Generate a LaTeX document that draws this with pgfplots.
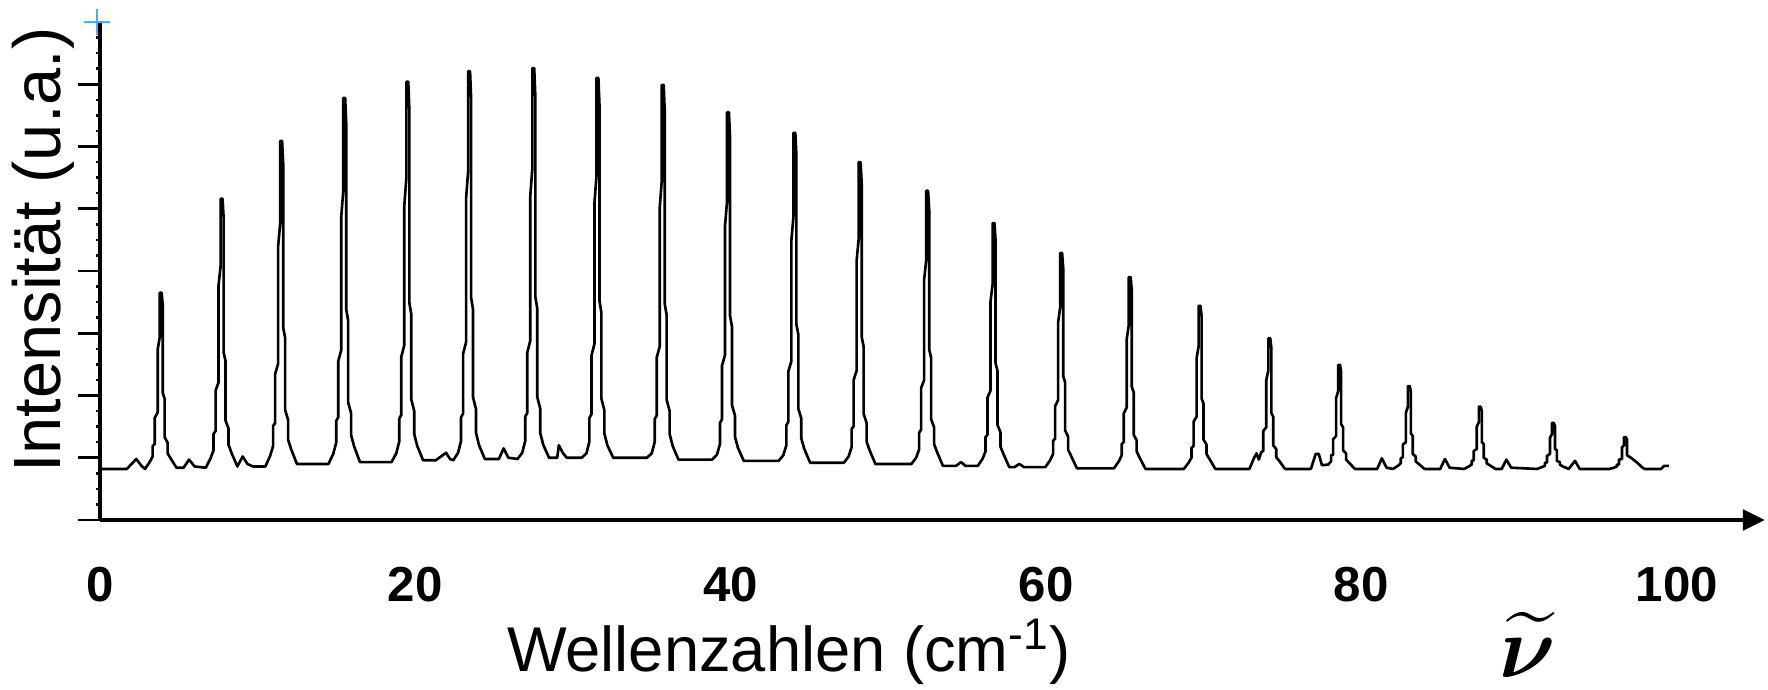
\documentclass[border=0pt]{standalone}
\usepackage{amsmath}
\usepackage{fontspec}
\setmainfont{Liberation Sans}
\usepackage{pgfplots}
\pgfplotsset{compat=1.18}
\usetikzlibrary{arrows.meta}
\definecolor{crossblue}{RGB}{80,170,240}
\begin{document}
\begin{tikzpicture}
\begin{axis}[
  name=ax,
  at={(0,0)}, anchor=south west,
  scale only axis,
  width=16.65cm, height=4.98cm,
  xmin=0, xmax=105.6, ymin=0, ymax=8,
  clip=false,
  axis x line=bottom,
  axis y line*=left,
  x axis line style={line width=1.4pt, -{Triangle[length=2.2mm,width=2.0mm]}},
  y axis line style={line width=1.4pt},
  xtick={0,20,40,60,80,100},
  major x tick style={draw=none},
  xticklabel style={anchor=center, yshift=-4.3mm, font=\fontsize{14}{16}\selectfont\bfseries},
  /pgf/number format/assume math mode=true,
  ytick={0,1,2,3,4,5,6,7},
  yticklabels={},
  minor ytick={0.25,0.5,0.75,1.25,1.5,1.75,2.25,2.5,2.75,3.25,3.5,3.75,4.25,4.5,4.75,5.25,5.5,5.75,6.25,6.5,6.75,7.25,7.5,7.75},
  tick align=outside,
  major tick length=2.2mm,
  minor tick length=0.35mm,
  major y tick style={line width=0.8pt, black},
  minor y tick style={line width=0.7pt, black},
  xlabel={Wellenzahlen (cm\textsuperscript{-1})},
  xlabel style={at={(axis description cs:0.4138,-0.265)}, anchor=center, font=\fontsize{18}{21}\selectfont},
  ylabel={Intensität (u.a.)},
  ylabel style={at={(axis description cs:-0.0342,0.542)}, anchor=center, rotate=0, font=\fontsize{19}{22}\selectfont},
]
\addplot[black, line width=0.75pt, line join=round, mark=none] coordinates {
(0,0.82)(1.7,0.82)(2.3,0.98)(2.6,0.88)
(2.85,0.82)(3.15,0.93)(3.34,1.02)(3.34,1.19)(3.47,1.22)(3.47,1.64)(3.66,1.73)(3.66,2.74)(3.79,2.94)(3.79,3.65)(3.91,3.65)(3.98,3.45)(3.98,2.04)(4.10,1.95)(4.10,1.33)(4.29,1.24)(4.29,1.07)(4.48,0.99)(4.85,0.84)
(5.3,0.84)(5.65,0.97)(6.0,0.86)
(6.71,0.84)(7.01,0.99)(7.20,1.12)(7.20,1.38)(7.33,1.43)(7.33,2.08)(7.52,2.21)(7.52,3.77)(7.65,4.08)(7.65,5.16)(7.77,5.16)(7.84,4.86)(7.84,2.69)(7.96,2.56)(7.96,1.60)(8.15,1.47)(8.15,1.21)(8.34,1.08)(8.71,0.86)
(9.05,1.02)(9.35,0.9)(9.7,0.86)
(10.49,0.86)(10.79,1.03)(10.98,1.19)(10.98,1.51)(11.11,1.56)(11.11,2.35)(11.30,2.51)(11.30,4.40)(11.43,4.77)(11.43,6.09)(11.55,6.09)(11.62,5.72)(11.62,3.09)(11.74,2.93)(11.74,1.77)(11.93,1.61)(11.93,1.29)(12.12,1.14)(12.49,0.90)
(14.49,0.90)(14.79,1.06)(14.98,1.24)(14.98,1.59)(15.11,1.65)(15.11,2.55)(15.30,2.73)(15.30,4.87)(15.43,5.29)(15.43,6.78)(15.55,6.78)(15.62,6.36)(15.62,3.38)(15.74,3.20)(15.74,1.89)(15.93,1.71)(15.93,1.36)(16.12,1.18)(16.49,0.93)
(18.49,0.93)(18.79,1.07)(18.98,1.26)(18.98,1.63)(19.11,1.69)(19.11,2.62)(19.30,2.81)(19.30,5.05)(19.43,5.49)(19.43,7.04)(19.55,7.04)(19.62,6.60)(19.62,3.49)(19.74,3.31)(19.74,1.94)(19.93,1.75)(19.93,1.38)(20.12,1.19)(20.49,0.96)
(21.3,0.96)(21.95,1.08)(22.2,0.98)
(22.41,0.96)(22.71,1.08)(22.90,1.27)(22.90,1.65)(23.03,1.71)(23.03,2.67)(23.22,2.86)(23.22,5.17)(23.35,5.61)(23.35,7.21)(23.47,7.21)(23.54,6.76)(23.54,3.57)(23.66,3.38)(23.66,1.97)(23.85,1.78)(23.85,1.40)(24.04,1.20)(24.41,0.98)
(25.3,0.98)(25.6,1.15)(25.9,1.0)
(26.48,0.98)(26.78,1.08)(26.97,1.27)(26.97,1.66)(27.10,1.72)(27.10,2.69)(27.29,2.88)(27.29,5.20)(27.42,5.65)(27.42,7.26)(27.54,7.26)(27.61,6.81)(27.61,3.59)(27.73,3.40)(27.73,1.98)(27.92,1.79)(27.92,1.40)(28.11,1.21)(28.48,1.0)
(29.0,1.0)(29.1,1.2)(29.35,1.08)(29.6,1.0)
(30.55,1.0)(30.85,1.07)(31.04,1.26)(31.04,1.64)(31.17,1.70)(31.17,2.64)(31.36,2.83)(31.36,5.09)(31.49,5.53)(31.49,7.10)(31.61,7.10)(31.68,6.66)(31.68,3.52)(31.80,3.33)(31.80,1.95)(31.99,1.76)(31.99,1.39)(32.18,1.20)(32.55,1.0)
(34.69,1.0)(34.99,1.07)(35.18,1.25)(35.18,1.62)(35.31,1.68)(35.31,2.61)(35.50,2.79)(35.50,5.02)(35.63,5.45)(35.63,6.99)(35.75,6.99)(35.82,6.56)(35.82,3.47)(35.94,3.29)(35.94,1.93)(36.13,1.75)(36.13,1.38)(36.32,1.19)(36.69,0.97)
(38.83,0.97)(39.13,1.05)(39.32,1.22)(39.32,1.56)(39.45,1.62)(39.45,2.48)(39.64,2.65)(39.64,4.72)(39.77,5.12)(39.77,6.55)(39.89,6.55)(39.96,6.15)(39.96,3.28)(40.08,3.11)(40.08,1.85)(40.27,1.68)(40.27,1.34)(40.46,1.16)(40.83,0.95)
(43.04,0.95)(43.34,1.04)(43.53,1.20)(43.53,1.52)(43.66,1.58)(43.66,2.39)(43.85,2.55)(43.85,4.49)(43.98,4.87)(43.98,6.22)(44.10,6.22)(44.17,5.84)(44.17,3.14)(44.29,2.98)(44.29,1.79)(44.48,1.63)(44.48,1.31)(44.67,1.14)(45.04,0.92)
(47.18,0.92)(47.48,1.02)(47.67,1.17)(47.67,1.46)(47.80,1.51)(47.80,2.25)(47.99,2.40)(47.99,4.17)(48.12,4.52)(48.12,5.75)(48.24,5.75)(48.31,5.40)(48.31,2.94)(48.43,2.79)(48.43,1.71)(48.62,1.56)(48.62,1.26)(48.81,1.12)(49.18,0.90)
(51.46,0.90)(51.76,1.00)(51.95,1.13)(51.95,1.40)(52.08,1.45)(52.08,2.12)(52.27,2.25)(52.27,3.86)(52.40,4.17)(52.40,5.29)(52.52,5.29)(52.59,4.98)(52.59,2.74)(52.71,2.61)(52.71,1.62)(52.90,1.49)(52.90,1.22)(53.09,1.09)(53.46,0.87)
(54.3,0.87)(54.6,0.93)(54.9,0.87)
(55.67,0.87)(55.97,0.98)(56.16,1.10)(56.16,1.33)(56.29,1.37)(56.29,1.97)(56.48,2.08)(56.48,3.51)(56.61,3.78)(56.61,4.77)(56.73,4.77)(56.80,4.49)(56.80,2.52)(56.92,2.40)(56.92,1.53)(57.11,1.41)(57.11,1.18)(57.30,1.06)(57.67,0.85)
(58.0,0.85)(58.3,0.9)(58.6,0.85)
(59.96,0.85)(60.26,0.96)(60.45,1.06)(60.45,1.27)(60.58,1.31)(60.58,1.83)(60.77,1.93)(60.77,3.18)(60.90,3.42)(60.90,4.29)(61.02,4.29)(61.09,4.05)(61.09,2.31)(61.21,2.21)(61.21,1.44)(61.40,1.34)(61.40,1.13)(61.59,1.03)(61.96,0.83)
(64.31,0.83)(64.61,0.94)(64.80,1.04)(64.80,1.22)(64.93,1.25)(64.93,1.71)(65.12,1.81)(65.12,2.91)(65.25,3.13)(65.25,3.90)(65.37,3.90)(65.44,3.68)(65.44,2.14)(65.56,2.05)(65.56,1.37)(65.75,1.28)(65.75,1.10)(65.94,1.00)(66.31,0.82)
(68.74,0.82)(69.04,0.92)(69.23,1.00)(69.23,1.16)(69.36,1.19)(69.36,1.58)(69.55,1.66)(69.55,2.60)(69.68,2.79)(69.68,3.44)(69.80,3.44)(69.87,3.26)(69.87,1.95)(69.99,1.87)(69.99,1.29)(70.18,1.21)(70.18,1.06)(70.37,0.98)(70.74,0.82)
(72.9,0.82)(73.2,1.0)(73.35,1.07)(73.5,0.97)(73.65,1.09)(73.78,1.11)(73.78,1.43)(73.97,1.49)(73.97,2.25)(74.10,2.40)(74.10,2.92)(74.22,2.92)(74.29,2.77)(74.29,1.72)(74.41,1.66)(74.41,1.20)(74.60,1.14)(74.60,1.01)(74.79,0.95)(75.16,0.82)
(76.8,0.82)(77.1,1.06)(77.3,1.06)(77.5,0.88)(77.89,0.89)(78.08,0.94)(78.08,1.04)(78.21,1.05)(78.21,1.30)(78.40,1.35)(78.40,1.96)(78.53,2.07)(78.53,2.49)(78.65,2.49)(78.72,2.37)(78.72,1.54)(78.84,1.49)(78.84,1.12)(79.03,1.07)(79.03,0.97)(79.22,0.92)(79.59,0.82)
(81.0,0.82)(81.3,0.99)(81.6,0.84)
(82.01,0.82)(82.31,0.87)(82.50,0.91)(82.50,0.99)(82.63,1.01)(82.63,1.21)(82.82,1.25)(82.82,1.72)(82.95,1.82)(82.95,2.15)(83.07,2.15)(83.14,2.06)(83.14,1.39)(83.26,1.35)(83.26,1.06)(83.45,1.02)(83.45,0.94)(83.64,0.90)(84.01,0.82)
(85.0,0.82)(85.3,0.98)(85.6,0.84)
(86.51,0.82)(86.81,0.86)(87.00,0.89)(87.00,0.95)(87.13,0.96)(87.13,1.11)(87.32,1.14)(87.32,1.50)(87.45,1.57)(87.45,1.82)(87.57,1.82)(87.64,1.75)(87.64,1.25)(87.76,1.22)(87.76,1.00)(87.95,0.97)(87.95,0.91)(88.14,0.88)(88.51,0.82)
(88.9,0.82)(89.2,0.97)(89.5,0.84)
(91.15,0.82)(91.45,0.85)(91.64,0.87)(91.64,0.92)(91.77,0.92)(91.77,1.03)(91.96,1.06)(91.96,1.32)(92.09,1.38)(92.09,1.56)(92.21,1.56)(92.28,1.51)(92.28,1.14)(92.40,1.12)(92.40,0.95)(92.59,0.93)(92.59,0.89)(92.78,0.86)(93.15,0.82)
(93.55,0.95)(93.85,0.82)
(95.72,0.82)(96.02,0.84)(96.21,0.86)(96.21,0.89)(96.34,0.89)(96.34,0.97)(96.53,0.98)(96.53,1.17)(96.66,1.20)(96.66,1.33)(96.78,1.33)(96.85,1.29)(96.85,1.04)(96.97,1.02)(97.1,1.0)(97.3,0.96)(97.5,0.92)(97.75,0.86)(97.95,0.82)
(99.0,0.82)(99.2,0.87)(99.5,0.87)
};
\addplot[only marks, mark=+, mark size=3.6pt, color=crossblue, mark options={line width=0.7pt}] coordinates {(-0.19,8)};
\node at (axis description cs:0.8577,-0.251) {\fontsize{28}{32}\selectfont$\boldsymbol{\widetilde{\nu}}$};
\end{axis}
\pgfresetboundingbox
\path (ax.south west) ++(-1.00cm,-1.70cm) rectangle ++(17.68cm,6.90cm);
\end{tikzpicture}
\end{document}
